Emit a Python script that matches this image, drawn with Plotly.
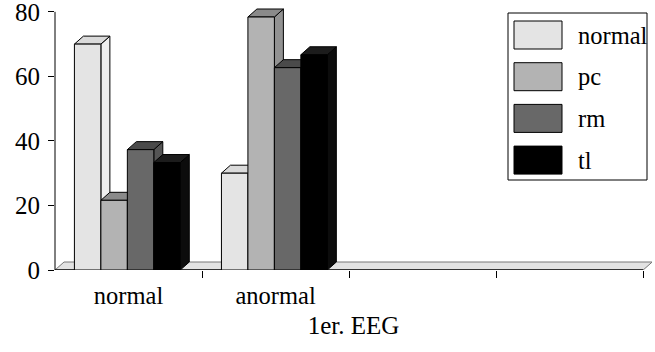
import plotly.graph_objects as go

# ---------------- data ----------------
categories = ["normal", "anormal"]
tick_labels = ["normal", "anormal", "", ""]
series_names = ["normal", "pc", "rm", "tl"]
normal_vals = [70, 30]
pc_vals = [21.6, 78.4]
rm_vals = [37.3, 62.7]
tl_vals = [33.3, 66.7]
y_ticks = [0, 20, 40, 60, 80]
x_title = "1er. EEG"

series_values = [normal_vals, pc_vals, rm_vals, tl_vals]

# ---------------- styles ----------------
front_colors = ["#e4e4e4", "#b3b3b3", "#686868", "#000000"]
top_colors = ["#dadada", "#8a8a8a", "#4a4a4a", "#1c1c1c"]
side_colors = ["#efefef", "#929292", "#555555", "#0c0c0c"]
FONT = "Liberation Serif, Times New Roman, Times, serif"

W, H = 655, 352
ML, MR, MT, MB = 55, 3, 7, 82
PW = W - ML - MR
PH = H - MT - MB
n_slots = len(tick_labels)
x_range = [-0.5, n_slots - 0.5 + 0.06]
y_range = [0, 81.5]
px_x = PW / (x_range[1] - x_range[0])
px_y = PH / (y_range[1] - y_range[0])
DX = 9 / px_x          # depth offset in data units
DY = 8 / px_y
BW = 0.18              # bar width
OFF0 = -0.368          # offset of first bar in group

fig = go.Figure()
shapes = []

# floor slab
x_lo, x_hi = -0.5, n_slots - 0.5
shapes.append(dict(type="path", xref="x", yref="y", layer="below",
                   path=f"M{x_lo},0 L{x_hi},0 L{x_hi+DX},{DY} L{x_lo+DX},{DY} Z",
                   fillcolor="#e2e2e2", line=dict(color="#777777", width=1)))
shapes.append(dict(type="line", xref="x", yref="y", layer="below",
                   x0=x_lo, x1=x_hi, y0=0, y1=0, line=dict(color="#333333", width=2)))

# 3D faces (sides + tops), in draw order
for j in range(len(categories)):
    for i, vals in enumerate(series_values):
        v = vals[j]
        x0 = j + OFF0 + i * BW
        x1 = x0 + BW
        shapes.append(dict(type="path", xref="x", yref="y", layer="below",
                           path=f"M{x1},0 L{x1+DX},{DY} L{x1+DX},{v+DY} L{x1},{v} Z",
                           fillcolor=side_colors[i], line=dict(color="black", width=1)))
        shapes.append(dict(type="path", xref="x", yref="y", layer="below",
                           path=f"M{x0},{v} L{x1},{v} L{x1+DX},{v+DY} L{x0+DX},{v+DY} Z",
                           fillcolor=top_colors[i], line=dict(color="black", width=1)))

# front faces as real bars
for i, (name, vals) in enumerate(zip(series_names, series_values)):
    fig.add_trace(go.Bar(
        x=list(range(len(categories))), y=vals, name=name,
        width=BW, offset=OFF0 + i * BW,
        marker=dict(color=front_colors[i], line=dict(color="black", width=1)),
        showlegend=False, hoverinfo="skip"))

# y axis line from 0 to top tick
shapes.append(dict(type="line", xref="paper", yref="y", layer="above",
                   x0=0, x1=0, y0=0, y1=y_ticks[-1], line=dict(color="black", width=1)))

# custom legend (pixel layout converted to paper coords)
def px2paper_x(px):
    return (px - ML) / PW

def px2paper_y(py):
    return (H - MB - py) / PH

leg_box = (508, 13, 647, 180)
shapes.append(dict(type="rect", xref="paper", yref="paper", layer="above",
                   x0=px2paper_x(leg_box[0]), x1=px2paper_x(leg_box[2]),
                   y0=px2paper_y(leg_box[3]), y1=px2paper_y(leg_box[1]),
                   fillcolor="white", line=dict(color="black", width=1)))
annotations = []
sw_x0, sw_x1, sw_h, first_top, step = 514, 562, 28, 21, 41.7
for i, name in enumerate(series_names):
    top = first_top + i * step
    shapes.append(dict(type="rect", xref="paper", yref="paper", layer="above",
                       x0=px2paper_x(sw_x0), x1=px2paper_x(sw_x1),
                       y0=px2paper_y(top + sw_h), y1=px2paper_y(top),
                       fillcolor=front_colors[i], line=dict(color="black", width=1)))
    annotations.append(dict(xref="paper", yref="paper", x=px2paper_x(576),
                            y=px2paper_y(top + sw_h / 2), text=name, showarrow=False,
                            xanchor="left", yanchor="middle",
                            font=dict(family=FONT, size=24.5, color="black")))

fig.update_layout(
    width=W, height=H,
    margin=dict(l=ML, r=MR, t=MT, b=MB, autoexpand=False),
    paper_bgcolor="white", plot_bgcolor="white",
    shapes=shapes, annotations=annotations,
    showlegend=False,
    font=dict(family=FONT, size=25, color="black"),
    xaxis=dict(range=x_range, tickvals=list(range(n_slots)), ticktext=tick_labels,
               ticks="", showline=False, showgrid=False, zeroline=False,
               ticklabeloverflow="allow", ticklabelstandoff=8,
               tickfont=dict(family=FONT, size=24.5, color="black"),
               minor=dict(tickvals=[k + 0.5 for k in range(n_slots)], ticks="outside",
                          ticklen=7, tickcolor="black", tickwidth=1, showgrid=False),
               title=dict(text=x_title, font=dict(family=FONT, size=25, color="black"),
                          standoff=8)),
    yaxis=dict(range=y_range, tickvals=y_ticks, ticks="outside", ticklen=6,
               tickcolor="black", showline=False, showgrid=False, zeroline=False,
               ticklabelstandoff=3, ticklabeloverflow="allow",
               tickfont=dict(family=FONT, size=25, color="black")),
)

fig.write_html("out.html", config={"displayModeBar": False, "staticPlot": True},
               post_script="document.body.style.margin='0';")
